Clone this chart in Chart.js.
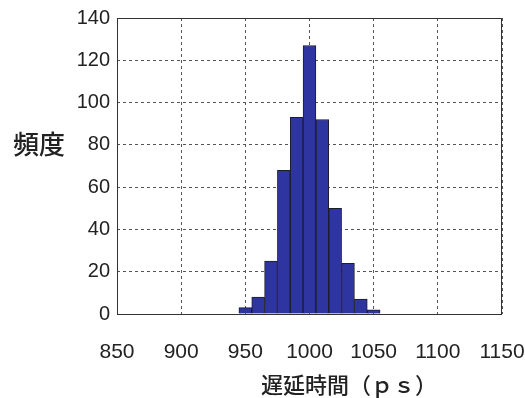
<!DOCTYPE html>
<html>
<head>
<meta charset="utf-8">
<script src="https://cdn.jsdelivr.net/npm/chart.js@4"></script>
<style>
  html, body { margin: 0; padding: 0; background: #fff; }
  #wrap { width: 525px; height: 398px; }
</style>
</head>
<body>
<div id="wrap"><canvas id="chartCanvas" width="525" height="398"></canvas></div>
<script>
// histogram bins (centre of each bin, ps) and counts
const binCenters = [950, 960, 970, 980, 990, 1000, 1010, 1020, 1030, 1040, 1050];
const counts = [3, 8, 25, 68, 93, 127, 92, 50, 24, 7, 2];
const xTicks = [850, 900, 950, 1000, 1050, 1100, 1150];
const yTicks = [0, 20, 40, 60, 80, 100, 120, 140];

const xTitle = '遅延時間（ｐｓ）';
const yTitle = '頻度';

const numFont = '"Liberation Sans", Arial, sans-serif';
const cjkFont = '"Noto Sans CJK JP", "Noto Sans CJK SC", sans-serif';

// frame round the plot area + the two axis titles
const framePlugin = {
    id: 'frame',
    afterDatasetsDraw(chart) {
        const ctx = chart.ctx;
        const a = chart.chartArea;
        ctx.save();
        ctx.strokeStyle = '#333';
        ctx.lineWidth = 1;
        ctx.setLineDash([]);
        ctx.strokeRect(a.left + 0.5, a.top + 0.5, a.right - a.left - 1, a.bottom - a.top);
        ctx.fillStyle = '#222';
        ctx.font = '500 22px ' + cjkFont;
        ctx.textAlign = 'center';
        ctx.textBaseline = 'middle';
        ctx.fillText(xTitle, a.right - 153, a.bottom + 71);
        ctx.font = '500 26px ' + cjkFont;
        ctx.fillText(yTitle, a.left - 78, a.top + 126);
        ctx.restore();
    }
};

const context = document.getElementById('chartCanvas').getContext('2d');
const chart = new Chart(context, {
    type: 'bar',
    data: {
        datasets: [{
            data: binCenters.map((c, i) => ({ x: c, y: counts[i] })),
            backgroundColor: '#2f35a0',
            borderColor: '#1c1c2a',
            borderWidth: 1,
            barPercentage: 1,
            categoryPercentage: 1
        }]
    },
    options: {
        responsive: false,
        animation: false,
        layout: { padding: { left: 0, right: 0, top: 0, bottom: 0 } },
        plugins: {
            legend: { display: false },
            tooltip: { enabled: false }
        },
        scales: {
            x: {
                type: 'linear',
                min: 850,
                max: 1150,
                offset: false,
                afterBuildTicks: (scale) => { scale.ticks = xTicks.map(v => ({ value: v })); },
                afterFit: (scale) => {
                    scale.height = 84;
                    scale.paddingLeft = 0;
                    scale.paddingRight = 23;
                },
                grid: {
                    offset: false,
                    color: '#555',
                    lineWidth: 1,
                    drawTicks: false
                },
                border: { display: false, dash: [3, 3] },
                ticks: {
                    padding: 26,
                    color: '#222',
                    maxRotation: 0,
                    autoSkip: false,
                    callback: (v) => String(v),
                    font: { family: numFont, size: 21 }
                }
            },
            y: {
                min: 0,
                max: 140,
                afterBuildTicks: (scale) => { scale.ticks = yTicks.map(v => ({ value: v })); },
                afterFit: (scale) => {
                    scale.width = 117;
                    scale.paddingTop = 18;
                    scale.paddingBottom = 0;
                },
                grid: {
                    color: '#555',
                    lineWidth: 1,
                    drawTicks: false
                },
                border: { display: false, dash: [3, 3] },
                ticks: {
                    padding: 7,
                    color: '#222',
                    callback: (v) => String(v),
                    font: { family: numFont, size: 20 }
                }
            }
        }
    },
    plugins: [framePlugin]
});
</script>
</body>
</html>
